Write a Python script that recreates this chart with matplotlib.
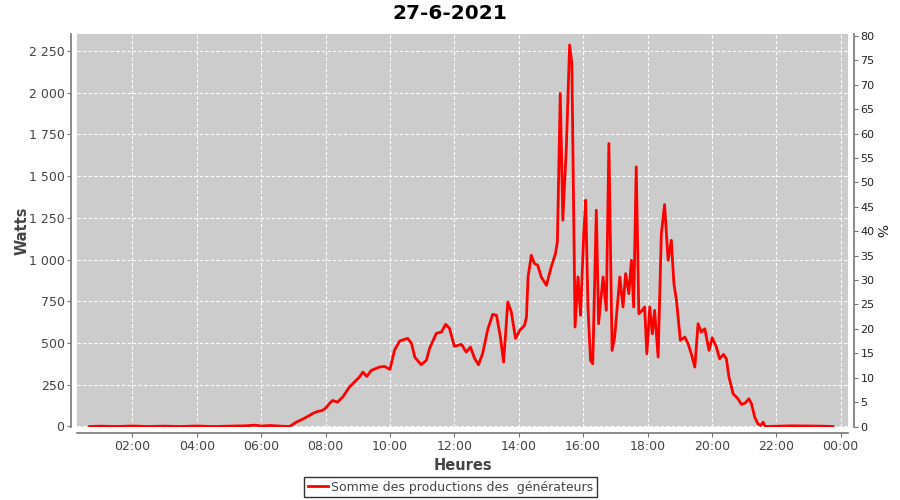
import matplotlib
matplotlib.use("Agg")
import matplotlib.pyplot as plt
from matplotlib.ticker import FuncFormatter, MultipleLocator

# production data (hours of the day, watts)
hours = [0.67, 1.0, 1.5, 2.0, 2.5, 3.0, 3.5, 4.0, 4.5, 5.0, 5.5, 5.8, 6.0, 6.3, 6.6, 6.88,
         7.09, 7.3, 7.5, 7.6, 7.75, 7.9, 8.0, 8.12, 8.22, 8.37, 8.53, 8.74, 9.05, 9.16,
         9.28, 9.42, 9.67, 9.83, 10.0, 10.14, 10.3, 10.55, 10.67, 10.77, 10.97, 11.13,
         11.23, 11.44, 11.6, 11.73, 11.85, 12.0, 12.22, 12.37, 12.5, 12.63, 12.75, 12.88,
         13.03, 13.19, 13.31, 13.43, 13.53, 13.66, 13.77, 13.9, 14.03, 14.18, 14.24, 14.29,
         14.39, 14.49, 14.59, 14.7, 14.86, 15.01, 15.14, 15.2, 15.29, 15.37, 15.48, 15.58,
         15.65, 15.75, 15.84, 15.92, 16.02, 16.08, 16.15, 16.23, 16.3, 16.41, 16.48, 16.62,
         16.72, 16.8, 16.9, 16.98, 17.14, 17.24, 17.32, 17.42, 17.5, 17.57, 17.65, 17.73,
         17.84, 17.91, 17.98, 18.07, 18.15, 18.22, 18.33, 18.43, 18.53, 18.64, 18.74, 18.82,
         18.9, 19.02, 19.16, 19.26, 19.36, 19.47, 19.57, 19.67, 19.78, 19.91, 20.01, 20.14,
         20.24, 20.36, 20.45, 20.53, 20.66, 20.81, 20.92, 21.03, 21.15, 21.23, 21.33, 21.43,
         21.52, 21.59, 21.66, 22.0, 22.5, 23.0, 23.4, 23.76]
watts = [0, 2, 0, 3, 0, 2, 0, 3, 0, 2, 4, 8, 3, 6, 2, 0,
         26, 45, 66, 78, 90, 96, 110, 138, 156, 146, 176, 236, 296, 326,
         300, 336, 356, 360, 342, 456, 512, 528, 498, 416, 370, 396,
         468, 558, 566, 612, 588, 480, 492, 446, 476, 408, 370, 438,
         576, 672, 666, 536, 386, 746, 686, 528, 576, 606, 656, 896,
         1026, 976, 966, 896, 846, 956, 1036, 1106, 1996, 1236, 1676, 2286,
         2176, 596, 896, 666, 1156, 1356, 716, 396, 376, 1296, 616, 896,
         696, 1696, 456, 536, 896, 716, 916, 796, 996, 716, 1556, 676,
         696, 716, 436, 716, 556, 696, 416, 1156, 1330, 996, 1116, 856,
         756, 516, 536, 496, 436, 356, 616, 566, 586, 456, 532, 476,
         406, 432, 406, 296, 196, 166, 132, 140, 166, 136, 56, 16,
         6, 26, 0, 2, 4, 3, 2, 0]

title = "27-6-2021"
series_name = "Somme des productions des  générateurs"

plt.rcParams['font.family'] = ['DejaVu Sans']
txt = '#444444'

fig = plt.figure(figsize=(9, 5), dpi=100)
# data area only; axis lines sit a few pixels outside it
ax = fig.add_axes([0.0856, 0.146, 0.8567, 0.786])
ax.set_facecolor('#cccccc')

ax.plot(hours, watts, color='#ff0000', lw=2, label=series_name)

ax.set_xlim(0.28, 24.23)
ax.set_ylim(-3, 2352)
ax.xaxis.set_major_locator(MultipleLocator(2))
ax.xaxis.set_major_formatter(FuncFormatter(lambda v, p: "%02d:00" % (int(round(v)) % 24)))
ax.yaxis.set_major_locator(MultipleLocator(250))
ax.yaxis.set_major_formatter(FuncFormatter(lambda v, p: "{:,.0f}".format(v).replace(",", " ")))
ax.grid(True, color='white', ls=(0, (3, 2)), lw=0.8)
ax.set_axisbelow(True)

for s in ['top', 'right']:
    ax.spines[s].set_visible(False)
for s in ['left', 'bottom']:
    ax.spines[s].set_color('#777777')
    ax.spines[s].set_linewidth(1.2)
    ax.spines[s].set_position(('outward', 4))
ax.tick_params(colors='#777777', labelcolor=txt, labelsize=9, length=3, pad=2)

ax.set_xlabel("Heures", fontsize=10.5, fontweight='bold', color=txt, labelpad=4)
ax.set_ylabel("Watts", fontsize=10.5, fontweight='bold', color=txt, labelpad=-1)
fig.suptitle(title, fontsize=14.5, fontweight='bold', x=0.5, y=0.992)

ax2 = ax.twinx()
ax2.set_ylim(-0.1, 80.4)
ax2.yaxis.set_major_locator(MultipleLocator(5))
for s in ['top', 'left', 'bottom']:
    ax2.spines[s].set_visible(False)
ax2.spines['right'].set_color('#777777')
ax2.spines['right'].set_linewidth(1.2)
ax2.spines['right'].set_position(('outward', 4))
ax2.tick_params(colors='#777777', labelcolor='#222222', labelsize=8, length=3, pad=2)
ax2.set_ylabel("%", fontsize=10, color='#222222', rotation=270, va='bottom', labelpad=-1)

leg = ax.legend(loc='upper center', bbox_to_anchor=(0.4844, -0.127), fontsize=9,
                frameon=True, fancybox=False, borderpad=0.3, handlelength=1.6,
                handletextpad=0.3, labelcolor=txt, borderaxespad=0)
leg.get_frame().set_edgecolor('black')
leg.get_frame().set_linewidth(1)

fig.savefig("out.png", dpi=100)
